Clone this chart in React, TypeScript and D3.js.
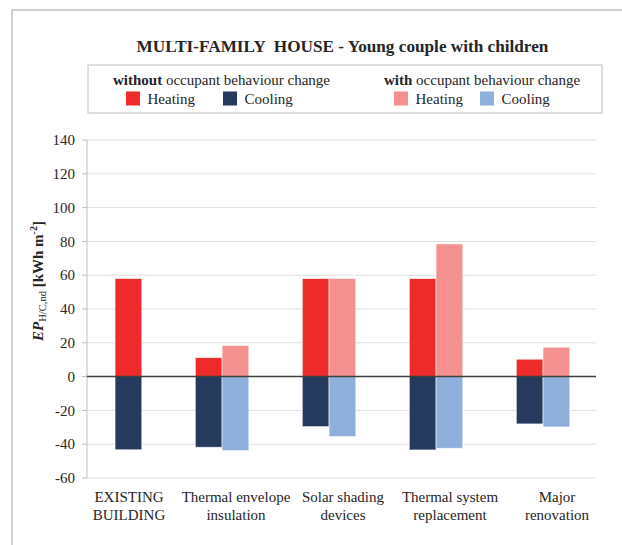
import React from "react";
import * as d3 from "d3";

const categories = ["EXISTING BUILDING", "Thermal envelope insulation", "Solar shading devices", "Thermal system replacement", "Major renovation"];
const labelLines = [["EXISTING", "BUILDING"], ["Thermal envelope", "insulation"], ["Solar shading", "devices"], ["Thermal system", "replacement"], ["Major", "renovation"]];
const heatingWithout = [58, 11.2, 58, 58, 10.3];
const coolingWithout = [-43.3, -41.8, -29.6, -43.4, -28];
const heatingWith: (number | null)[] = [null, 18.3, 58, 78.5, 17.4];
const coolingWith: (number | null)[] = [null, -43.8, -35.5, -42.4, -29.8];
const yTicks = [-60, -40, -20, 0, 20, 40, 60, 80, 100, 120, 140];
const slots = ["without", "with"];

const COLORS = {
  heatWithout: "#ee2a2a",
  coolWithout: "#263a5e",
  heatWith: "#f4908f",
  coolWith: "#8eb0db",
};

const FONT = "Liberation Serif, Times New Roman, serif";

export default function App() {
  const W = 622, H = 545;
  const plotLeft = 87, plotRight = 596;
  const y = d3.scaleLinear().domain([-60, 140]).range([478, 140]);
  const x = d3.scaleBand<string>().domain(categories).range([88.3, 569.8]).paddingInner(0.5).paddingOuter(0);
  const xs = d3.scaleBand<string>().domain(slots).range([0, x.bandwidth()]);
  const xl = d3.scalePoint<string>().domain(categories).range([129, 557]);

  type Bar = { key: string; x: number; w: number; v: number; color: string };
  const bars: Bar[] = [];
  categories.forEach((c, i) => {
    // in the reference, the existing building bars sit in the second slot
    const slotW = i === 0 ? "with" : "without";
    const bx0 = (x(c) as number) + (xs(slotW) as number);
    bars.push({ key: c + "hw", x: bx0, w: xs.bandwidth(), v: heatingWithout[i], color: COLORS.heatWithout });
    bars.push({ key: c + "cw", x: bx0, w: xs.bandwidth(), v: coolingWithout[i], color: COLORS.coolWithout });
    const hv = heatingWith[i];
    const cv = coolingWith[i];
    const bx1 = (x(c) as number) + (xs("with") as number);
    if (hv != null) bars.push({ key: c + "hh", x: bx1, w: xs.bandwidth(), v: hv, color: COLORS.heatWith });
    if (cv != null) bars.push({ key: c + "ch", x: bx1, w: xs.bandwidth(), v: cv, color: COLORS.coolWith });
  });

  const textCol = "#262626";
  const fs = 15;

  return (
    <svg width={W} height={H} style={{ position: "absolute", left: 0, top: 0, background: "#fff", fontFamily: FONT }}>
      <rect x={0} y={0} width={W} height={H} fill="#fff" />
      {/* outer frame */}
      <rect x={12} y={10} width={W} height={H} fill="none" stroke="#b3b3b3" strokeWidth={1.2} />
      {/* title */}
      <text x={342.5} y={52} textAnchor="middle" fontSize={17.2} fontWeight="bold" fill={textCol} style={{ whiteSpace: "pre" }}>
        {"MULTI-FAMILY  HOUSE - Young couple with children"}
      </text>
      {/* legend */}
      <rect x={88} y={65} width={514} height={48} fill="#fff" stroke="#bfbfbf" strokeWidth={1} />
      <text x={113} y={85} fontSize={fs} fill={textCol}>
        <tspan fontWeight="bold">without</tspan>
        <tspan> occupant behaviour change</tspan>
      </text>
      <text x={384} y={85} fontSize={fs} fill={textCol}>
        <tspan fontWeight="bold">with</tspan>
        <tspan> occupant behaviour change</tspan>
      </text>
      {[
        { x: 126, c: COLORS.heatWithout, t: "Heating" },
        { x: 223, c: COLORS.coolWithout, t: "Cooling" },
        { x: 394, c: COLORS.heatWith, t: "Heating" },
        { x: 480, c: COLORS.coolWith, t: "Cooling" },
      ].map((d) => (
        <g key={d.x}>
          <rect x={d.x} y={91.5} width={14} height={14} fill={d.c} />
          <text x={d.x + 21.5} y={103.5} fontSize={fs} fill={textCol}>{d.t}</text>
        </g>
      ))}
      {/* gridlines */}
      {yTicks.map((t) => (
        <g key={t}>
          {t !== 0 && <line x1={plotLeft} x2={plotRight} y1={y(t)} y2={y(t)} stroke="#dedede" strokeWidth={1} />}
          <line x1={plotLeft - 5} x2={plotLeft} y1={y(t)} y2={y(t)} stroke="#bfbfbf" strokeWidth={1} />
          <text x={75} y={y(t)} dy="0.35em" textAnchor="end" fontSize={fs} fill={textCol}>{t}</text>
        </g>
      ))}
      <line x1={plotLeft} x2={plotLeft} y1={y(140)} y2={y(-60)} stroke="#bfbfbf" strokeWidth={1} />
      {/* bars */}
      {bars.map((b) => (
        <rect
          key={b.key}
          x={b.x}
          width={b.w}
          y={Math.min(y(b.v), y(0))}
          height={Math.abs(y(b.v) - y(0))}
          fill={b.color}
          stroke="#ffffff"
          strokeOpacity={0.7}
          strokeWidth={0.8}
        />
      ))}
      {/* zero line */}
      <line x1={plotLeft} x2={plotRight} y1={y(0)} y2={y(0)} stroke="#3f3f3f" strokeWidth={1.5} />
      {/* x labels */}
      {categories.map((c, i) => (
        <text key={c} x={xl(c)} y={502} textAnchor="middle" fontSize={fs} fill={textCol}>
          <tspan x={xl(c)} dy={0}>{labelLines[i][0]}</tspan>
          <tspan x={xl(c)} dy={17.5}>{labelLines[i][1]}</tspan>
        </text>
      ))}
      {/* y axis title */}
      <text transform={`translate(43, 281) rotate(-90)`} textAnchor="middle" fontSize={15} fontWeight="bold" fill={textCol}>
        <tspan fontStyle="italic">EP</tspan>
        <tspan fontSize={10.5} dy={3} fontWeight="normal">H/C,nd</tspan>
        <tspan dy={-3}> [kWh m</tspan>
        <tspan fontSize={10} dy={-6}>-2</tspan>
        <tspan dy={6}>]</tspan>
      </text>
    </svg>
  );
}
